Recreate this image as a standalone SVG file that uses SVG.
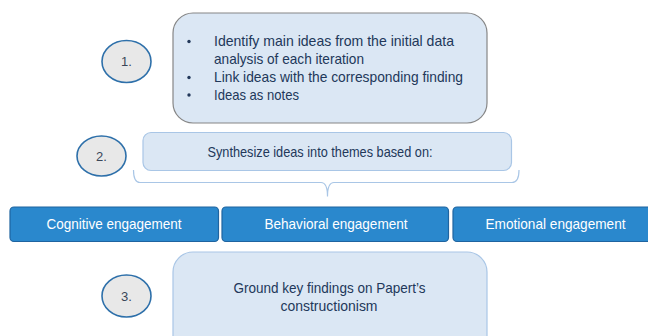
<svg xmlns="http://www.w3.org/2000/svg" width="648" height="336" viewBox="0 0 648 336">
<style>
  text { font-family: "Liberation Sans", Arial, sans-serif; }
  .num { fill: #e8e8e8; stroke: #2e70aa; stroke-width: 1.6; }
  .numt { font-size: 13px; fill: #3a4658; text-anchor: middle; }
  .box { fill: #dbe7f4; }
  .bt { font-size: 14.2px; fill: #22385a; }
  .dot { fill: #22385a; }
  .btn { fill: #2a88cd; stroke: #1f64a0; stroke-width: 1.2; }
  .btnt { font-size: 14.2px; fill: #ffffff; text-anchor: middle; }
  .brace { fill: none; stroke: #a9c6e6; stroke-width: 1.2; }
</style>
<rect width="648" height="336" fill="#ffffff"/>

<g id="step1">
  <ellipse class="num" cx="126.5" cy="61.5" rx="24.5" ry="21"/>
  <text class="numt" x="126.5" y="66">1.</text>
</g>
<g id="box1">
  <rect class="box" x="173" y="13" width="314" height="110" rx="20" ry="20" stroke="#868686" stroke-width="1.2"/>
  <circle class="dot" cx="189" cy="41.5" r="1.7"/>
  <text class="bt" x="214" y="46" textLength="240" lengthAdjust="spacingAndGlyphs">Identify main ideas from the initial data</text>
  <text class="bt" x="214" y="63.5" textLength="150" lengthAdjust="spacingAndGlyphs">analysis of each iteration</text>
  <circle class="dot" cx="189" cy="77.5" r="1.7"/>
  <text class="bt" x="214" y="82" textLength="249" lengthAdjust="spacingAndGlyphs">Link ideas with the corresponding finding</text>
  <circle class="dot" cx="189" cy="95" r="1.7"/>
  <text class="bt" x="214" y="99.5" textLength="85" lengthAdjust="spacingAndGlyphs">Ideas as notes</text>
</g>

<g id="step2">
  <ellipse class="num" cx="101.5" cy="156" rx="24.5" ry="20"/>
  <text class="numt" x="101.5" y="160.5">2.</text>
</g>
<g id="box2">
  <rect class="box" x="143" y="132.5" width="368.5" height="38" rx="8" ry="8" stroke="#a9c6e6" stroke-width="1.2"/>
  <text class="bt" x="320" y="157" text-anchor="middle" textLength="225" lengthAdjust="spacingAndGlyphs">Synthesize ideas into themes based on:</text>
</g>

<g id="connectors">
  <path class="brace" d="M133.5,170 Q133.5,182.5 140,182.5 L321,182.5 Q327.5,182.5 327.5,196.5 Q327.5,182.5 334,182.5 L512,182.5 Q519,182.5 519,170"/>
</g>

<g id="cognitive">
  <rect class="btn" x="10" y="207" width="208.5" height="34.5" rx="4" ry="4"/>
  <text class="btnt" x="114" y="229" textLength="135" lengthAdjust="spacingAndGlyphs">Cognitive engagement</text>
</g>
<g id="behavioral">
  <rect class="btn" x="222" y="207" width="226.5" height="34.5" rx="4" ry="4"/>
  <text class="btnt" x="336" y="229" textLength="143" lengthAdjust="spacingAndGlyphs">Behavioral engagement</text>
</g>
<g id="emotional">
  <rect class="btn" x="453" y="207" width="206" height="34.5" rx="4" ry="4"/>
  <text class="btnt" x="555.5" y="229" textLength="140" lengthAdjust="spacingAndGlyphs">Emotional engagement</text>
</g>

<g id="step3">
  <ellipse class="num" cx="126.5" cy="296" rx="24.5" ry="21"/>
  <text class="numt" x="126.5" y="300.5">3.</text>
</g>
<g id="box3">
  <rect class="box" x="173" y="252" width="314" height="110" rx="20" ry="20" stroke="#a9c6e6" stroke-width="1.2"/>
  <text class="bt" x="329.5" y="293" text-anchor="middle" textLength="192" lengthAdjust="spacingAndGlyphs">Ground key findings on Papert’s</text>
  <text class="bt" x="329" y="310.5" text-anchor="middle" textLength="97" lengthAdjust="spacingAndGlyphs">constructionism</text>
</g>
</svg>
